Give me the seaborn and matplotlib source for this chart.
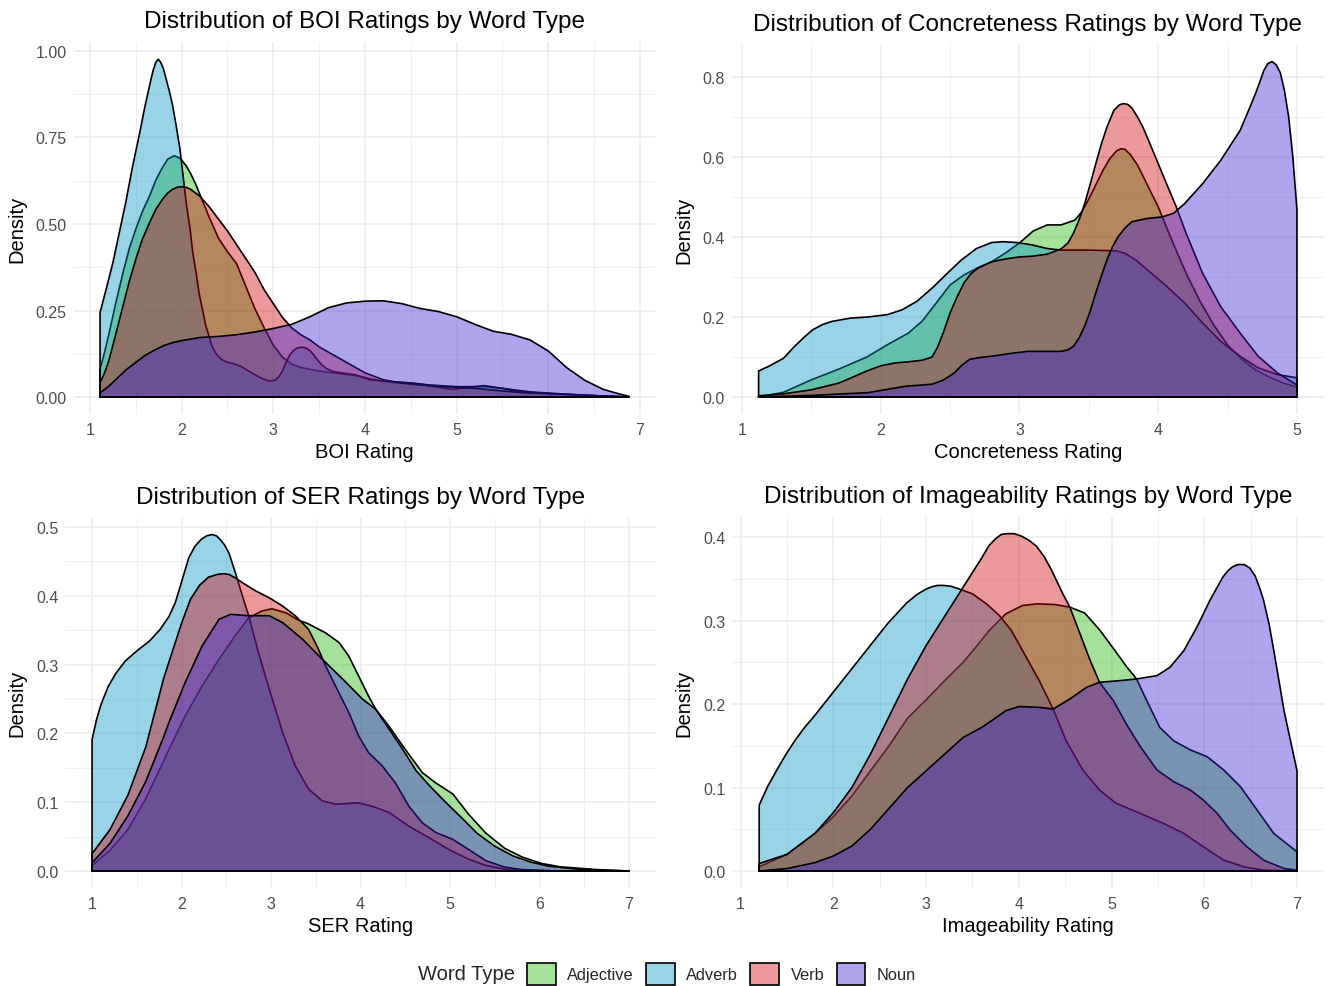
import matplotlib
matplotlib.use("Agg")
import matplotlib.pyplot as plt
import seaborn as sns
import numpy as np
from matplotlib.patches import Patch
from matplotlib.colors import to_rgba
from matplotlib.ticker import MultipleLocator, FormatStrFormatter

# ---------------- data (density curves) ----------------
word_types = ["Adjective", "Adverb", "Verb", "Noun"]
fill_colors = ["#20B607", "#0093C5", "#CF0007", "#3920D9"]
fill_alpha = 0.4

# BOI
boi_adj_x = [1.11, 1.16, 1.21, 1.28, 1.36, 1.43, 1.50, 1.57, 1.65, 1.72, 1.79, 1.85, 1.92, 1.97, 2.0, 2.05, 2.1, 2.15, 2.2, 2.3, 2.4, 2.5, 2.6, 2.7, 2.8, 2.9, 3.0, 3.1, 3.2, 3.3, 3.5, 3.7, 3.9, 4.1, 4.3, 4.5, 4.7, 5.0, 5.3, 5.5, 5.8, 6.2, 6.5, 6.88]
boi_adj_y = [0.08, 0.13, 0.186, 0.27, 0.359, 0.43, 0.485, 0.535, 0.581, 0.628, 0.663, 0.688, 0.697, 0.692, 0.685, 0.668, 0.645, 0.617, 0.585, 0.52, 0.46, 0.42, 0.385, 0.32, 0.255, 0.20, 0.15, 0.115, 0.095, 0.085, 0.075, 0.068, 0.062, 0.05, 0.042, 0.04, 0.035, 0.03, 0.03, 0.025, 0.015, 0.008, 0.004, 0.0]
boi_adv_x = [1.11, 1.18, 1.25, 1.32, 1.39, 1.46, 1.54, 1.60, 1.65, 1.69, 1.72, 1.745, 1.77, 1.80, 1.83, 1.87, 1.90, 1.94, 1.98, 2.02, 2.05, 2.09, 2.12, 2.16, 2.19, 2.23, 2.26, 2.30, 2.33, 2.37, 2.40, 2.44, 2.48, 2.56, 2.65, 2.75, 2.85, 2.92, 2.97, 3.02, 3.06, 3.10, 3.14, 3.18, 3.23, 3.28, 3.32, 3.36, 3.40, 3.44, 3.48, 3.53, 3.58, 3.65, 3.76, 3.90, 4.05, 4.2, 4.4, 4.6, 4.8, 4.95, 5.1, 5.3, 5.5, 5.7, 6.0, 6.3, 6.6, 6.88]
boi_adv_y = [0.244, 0.315, 0.388, 0.475, 0.562, 0.66, 0.76, 0.84, 0.90, 0.945, 0.968, 0.976, 0.968, 0.95, 0.92, 0.88, 0.845, 0.785, 0.72, 0.63, 0.56, 0.49, 0.42, 0.355, 0.30, 0.25, 0.21, 0.175, 0.148, 0.128, 0.117, 0.108, 0.102, 0.097, 0.088, 0.072, 0.057, 0.049, 0.046, 0.049, 0.058, 0.075, 0.10, 0.122, 0.137, 0.143, 0.144, 0.141, 0.134, 0.122, 0.108, 0.093, 0.082, 0.074, 0.069, 0.064, 0.05, 0.046, 0.043, 0.038, 0.028, 0.022, 0.027, 0.033, 0.025, 0.014, 0.01, 0.006, 0.003, 0.0]
boi_verb_x = [1.11, 1.16, 1.21, 1.28, 1.36, 1.43, 1.50, 1.57, 1.65, 1.72, 1.79, 1.85, 1.9, 1.95, 2.0, 2.05, 2.1, 2.2, 2.3, 2.4, 2.5, 2.6, 2.7, 2.8, 2.9, 3.0, 3.1, 3.2, 3.3, 3.4, 3.5, 3.6, 3.7, 3.8, 3.9, 4.0, 4.2, 4.4, 4.6, 4.8, 5.0, 5.2, 5.4, 5.6, 5.8, 6.0, 6.2, 6.5, 6.88]
boi_verb_y = [0.041, 0.07, 0.109, 0.18, 0.263, 0.335, 0.398, 0.455, 0.504, 0.543, 0.571, 0.59, 0.60, 0.606, 0.608, 0.606, 0.60, 0.58, 0.55, 0.515, 0.48, 0.44, 0.40, 0.36, 0.31, 0.27, 0.23, 0.20, 0.18, 0.165, 0.145, 0.13, 0.115, 0.10, 0.085, 0.07, 0.05, 0.04, 0.035, 0.03, 0.028, 0.025, 0.02, 0.015, 0.012, 0.01, 0.008, 0.004, 0.0]
boi_noun_x = [1.11, 1.2, 1.3, 1.4, 1.5, 1.6, 1.7, 1.8, 1.9, 2.0, 2.2, 2.4, 2.6, 2.8, 3.0, 3.2, 3.4, 3.6, 3.8, 4.0, 4.2, 4.4, 4.6, 4.8, 5.0, 5.2, 5.4, 5.6, 5.8, 6.0, 6.2, 6.4, 6.6, 6.8, 6.88]
boi_noun_y = [0.012, 0.03, 0.055, 0.08, 0.10, 0.12, 0.135, 0.148, 0.157, 0.163, 0.172, 0.175, 0.18, 0.188, 0.198, 0.21, 0.232, 0.258, 0.272, 0.277, 0.278, 0.27, 0.256, 0.247, 0.232, 0.21, 0.19, 0.181, 0.165, 0.133, 0.085, 0.048, 0.022, 0.007, 0.002]

# Concreteness
con_adj_x = [1.12, 1.3, 1.5, 1.7, 1.9, 2.05, 2.2, 2.3, 2.4, 2.5, 2.6, 2.7, 2.8, 2.9, 3.0, 3.1, 3.2, 3.3, 3.4, 3.45, 3.5, 3.55, 3.6, 3.65, 3.7, 3.73, 3.76, 3.8, 3.85, 3.9, 3.95, 4.0, 4.1, 4.2, 4.3, 4.4, 4.5, 4.6, 4.7, 4.8, 4.9, 5.0]
con_adj_y = [0.0, 0.012, 0.043, 0.07, 0.10, 0.131, 0.16, 0.19, 0.235, 0.28, 0.305, 0.323, 0.338, 0.36, 0.385, 0.415, 0.43, 0.43, 0.442, 0.463, 0.495, 0.53, 0.565, 0.595, 0.615, 0.62, 0.619, 0.605, 0.58, 0.545, 0.51, 0.475, 0.39, 0.31, 0.24, 0.18, 0.13, 0.095, 0.068, 0.05, 0.035, 0.025]
con_adv_x = [1.12, 1.2, 1.3, 1.38, 1.45, 1.51, 1.58, 1.65, 1.78, 1.91, 2.05, 2.155, 2.26, 2.37, 2.48, 2.58, 2.69, 2.80, 2.88, 2.98, 3.09, 3.2, 3.3, 3.5, 3.7, 3.76, 3.84, 3.92, 4.05, 4.19, 4.32, 4.45, 4.59, 4.72, 4.86, 5.0]
con_adv_y = [0.065, 0.078, 0.097, 0.127, 0.15, 0.168, 0.181, 0.189, 0.197, 0.20, 0.206, 0.218, 0.239, 0.272, 0.309, 0.342, 0.371, 0.386, 0.388, 0.386, 0.38, 0.371, 0.367, 0.367, 0.365, 0.359, 0.342, 0.318, 0.28, 0.235, 0.185, 0.139, 0.102, 0.073, 0.056, 0.048]
con_verb_x = [1.12, 1.3, 1.5, 1.7, 1.9, 2.0, 2.1, 2.2, 2.3, 2.37, 2.41, 2.45, 2.5, 2.55, 2.6, 2.65, 2.7, 2.8, 2.9, 3.0, 3.1, 3.2, 3.3, 3.35, 3.39, 3.43, 3.47, 3.51, 3.55, 3.59, 3.63, 3.68, 3.72, 3.75, 3.78, 3.81, 3.85, 3.89, 3.97, 4.05, 4.13, 4.2, 4.32, 4.45, 4.59, 4.72, 4.86, 5.0]
con_verb_y = [0.003, 0.008, 0.018, 0.035, 0.065, 0.078, 0.085, 0.088, 0.092, 0.10, 0.125, 0.16, 0.21, 0.25, 0.285, 0.308, 0.322, 0.338, 0.345, 0.35, 0.352, 0.357, 0.37, 0.385, 0.41, 0.443, 0.483, 0.532, 0.583, 0.632, 0.674, 0.716, 0.730, 0.733, 0.731, 0.722, 0.70, 0.674, 0.608, 0.541, 0.475, 0.41, 0.309, 0.226, 0.16, 0.102, 0.06, 0.03]
con_noun_x = [1.12, 1.5, 1.91, 2.18, 2.37, 2.45, 2.53, 2.58, 2.64, 2.72, 2.80, 2.96, 3.06, 3.20, 3.30, 3.35, 3.39, 3.43, 3.47, 3.51, 3.55, 3.59, 3.63, 3.67, 3.71, 3.76, 3.81, 3.92, 4.03, 4.11, 4.19, 4.32, 4.45, 4.59, 4.65, 4.70, 4.73, 4.76, 4.79, 4.82, 4.85, 4.88, 4.91, 4.94, 4.97, 5.0]
con_noun_y = [0.0, 0.004, 0.011, 0.027, 0.032, 0.042, 0.06, 0.078, 0.094, 0.099, 0.102, 0.11, 0.114, 0.114, 0.114, 0.118, 0.127, 0.148, 0.177, 0.215, 0.26, 0.302, 0.342, 0.375, 0.40, 0.422, 0.438, 0.446, 0.45, 0.459, 0.483, 0.533, 0.591, 0.666, 0.715, 0.757, 0.785, 0.815, 0.833, 0.838, 0.83, 0.81, 0.765, 0.70, 0.60, 0.467]

# SER
ser_adj_x = [1.0, 1.2, 1.4, 1.6, 1.8, 1.86, 2.04, 2.23, 2.42, 2.6, 2.75, 2.9, 3.01, 3.17, 3.3, 3.42, 3.61, 3.76, 3.87, 3.98, 4.09, 4.17, 4.32, 4.47, 4.69, 4.84, 5.03, 5.21, 5.4, 5.61, 5.81, 6.02, 6.23, 6.64, 7.0]
ser_adj_y = [0.008, 0.03, 0.06, 0.105, 0.16, 0.177, 0.225, 0.269, 0.308, 0.342, 0.368, 0.378, 0.381, 0.375, 0.365, 0.359, 0.346, 0.332, 0.312, 0.283, 0.254, 0.235, 0.21, 0.182, 0.143, 0.128, 0.112, 0.082, 0.055, 0.033, 0.02, 0.011, 0.006, 0.002, 0.0]
ser_adv_x = [1.0, 1.05, 1.1, 1.18, 1.27, 1.37, 1.475, 1.56, 1.64, 1.76, 1.86, 1.93, 2.0, 2.08, 2.15, 2.22, 2.28, 2.34, 2.39, 2.43, 2.48, 2.53, 2.60, 2.68, 2.75, 2.86, 2.98, 3.13, 3.27, 3.42, 3.57, 3.72, 3.85, 3.98, 4.13, 4.32, 4.54, 4.77, 4.99, 5.21, 5.4, 5.6, 5.8, 6.2, 7.0]
ser_adv_y = [0.191, 0.22, 0.242, 0.268, 0.288, 0.305, 0.317, 0.326, 0.334, 0.351, 0.37, 0.39, 0.42, 0.455, 0.472, 0.482, 0.487, 0.489, 0.487, 0.482, 0.474, 0.462, 0.434, 0.40, 0.371, 0.317, 0.264, 0.201, 0.153, 0.119, 0.102, 0.097, 0.098, 0.099, 0.094, 0.085, 0.065, 0.048, 0.031, 0.017, 0.008, 0.003, 0.001, 0.0, 0.0]
ser_verb_x = [1.0, 1.2, 1.4, 1.6, 1.7, 1.8, 1.9, 2.0, 2.1, 2.2, 2.3, 2.4, 2.47, 2.53, 2.6, 2.68, 2.83, 2.98, 3.13, 3.27, 3.42, 3.52, 3.61, 3.72, 3.87, 3.98, 4.09, 4.24, 4.39, 4.54, 4.69, 4.84, 5.03, 5.21, 5.4, 5.6, 5.8, 6.2, 7.0]
ser_verb_y = [0.025, 0.06, 0.11, 0.18, 0.23, 0.28, 0.32, 0.36, 0.395, 0.415, 0.427, 0.431, 0.432, 0.431, 0.426, 0.419, 0.407, 0.397, 0.385, 0.371, 0.351, 0.325, 0.298, 0.269, 0.23, 0.196, 0.172, 0.153, 0.128, 0.094, 0.07, 0.056, 0.046, 0.031, 0.015, 0.006, 0.002, 0.0, 0.0]
ser_noun_x = [1.0, 1.2, 1.4, 1.6, 1.8, 1.86, 2.04, 2.23, 2.42, 2.55, 2.75, 2.98, 3.13, 3.35, 3.57, 3.80, 4.02, 4.17, 4.32, 4.47, 4.62, 4.77, 4.95, 5.14, 5.3, 5.5, 5.7, 5.9, 6.1, 6.4, 6.7, 7.0]
ser_noun_y = [0.012, 0.04, 0.08, 0.13, 0.195, 0.216, 0.274, 0.327, 0.366, 0.373, 0.371, 0.371, 0.361, 0.337, 0.308, 0.279, 0.25, 0.235, 0.206, 0.177, 0.146, 0.124, 0.1, 0.076, 0.055, 0.036, 0.022, 0.013, 0.007, 0.003, 0.001, 0.0]

# Imageability
img_adj_x = [1.2, 1.5, 1.8, 2.0, 2.2, 2.4, 2.6, 2.8, 3.0, 3.2, 3.4, 3.55, 3.68, 3.86, 4.04, 4.2, 4.4, 4.55, 4.71, 4.87, 5.03, 5.16, 5.27, 5.38, 5.52, 5.67, 5.85, 6.03, 6.21, 6.39, 6.57, 6.75, 7.0]
img_adj_y = [0.005, 0.02, 0.045, 0.065, 0.09, 0.12, 0.15, 0.183, 0.205, 0.228, 0.25, 0.27, 0.288, 0.308, 0.318, 0.32, 0.319, 0.316, 0.309, 0.289, 0.265, 0.245, 0.23, 0.204, 0.172, 0.156, 0.145, 0.137, 0.121, 0.101, 0.073, 0.045, 0.023]
img_adv_x = [1.2, 1.29, 1.39, 1.49, 1.59, 1.69, 1.79, 1.99, 2.19, 2.39, 2.59, 2.79, 2.9, 2.99, 3.05, 3.12, 3.19, 3.27, 3.35, 3.5, 3.65, 3.79, 3.92, 4.04, 4.22, 4.37, 4.51, 4.69, 4.87, 5.05, 5.31, 5.56, 5.78, 5.99, 6.21, 6.43, 6.64, 7.0]
img_adv_y = [0.079, 0.101, 0.121, 0.14, 0.157, 0.172, 0.185, 0.213, 0.241, 0.269, 0.297, 0.321, 0.331, 0.337, 0.34, 0.342, 0.342, 0.341, 0.338, 0.332, 0.32, 0.306, 0.288, 0.264, 0.228, 0.194, 0.156, 0.121, 0.097, 0.081, 0.069, 0.057, 0.045, 0.029, 0.013, 0.005, 0.001, 0.0]
img_verb_x = [1.2, 1.5, 1.8, 2.0, 2.2, 2.4, 2.6, 2.8, 3.0, 3.2, 3.4, 3.6, 3.68, 3.75, 3.81, 3.87, 3.95, 4.03, 4.11, 4.19, 4.27, 4.35, 4.47, 4.55, 4.66, 4.77, 4.87, 5.02, 5.16, 5.31, 5.49, 5.67, 5.85, 5.99, 6.14, 6.28, 6.46, 6.64, 6.86, 7.0]
img_verb_y = [0.009, 0.02, 0.045, 0.07, 0.1, 0.14, 0.185, 0.23, 0.27, 0.305, 0.34, 0.375, 0.39, 0.398, 0.403, 0.404, 0.404, 0.401, 0.396, 0.389, 0.377, 0.361, 0.333, 0.316, 0.284, 0.252, 0.226, 0.204, 0.176, 0.149, 0.121, 0.107, 0.097, 0.085, 0.069, 0.049, 0.029, 0.013, 0.003, 0.001]
img_noun_x = [1.2, 1.5, 1.8, 2.0, 2.2, 2.4, 2.6, 2.8, 3.0, 3.2, 3.4, 3.6, 3.68, 3.86, 4.0, 4.22, 4.37, 4.55, 4.73, 4.87, 5.09, 5.27, 5.49, 5.63, 5.78, 5.92, 6.06, 6.2, 6.25, 6.3, 6.36, 6.43, 6.49, 6.55, 6.6, 6.64, 6.7, 6.75, 6.86, 7.0]
img_noun_y = [0.0, 0.003, 0.01, 0.018, 0.03, 0.05, 0.075, 0.1, 0.12, 0.14, 0.16, 0.172, 0.178, 0.192, 0.197, 0.196, 0.194, 0.206, 0.22, 0.226, 0.228, 0.23, 0.234, 0.244, 0.264, 0.292, 0.324, 0.352, 0.359, 0.364, 0.367, 0.367, 0.363, 0.353, 0.338, 0.324, 0.295, 0.264, 0.192, 0.12]

panel_titles = ["Distribution of BOI Ratings by Word Type",
                "Distribution of Concreteness Ratings by Word Type",
                "Distribution of SER Ratings by Word Type",
                "Distribution of Imageability Ratings by Word Type"]
x_labels = ["BOI Rating", "Concreteness Rating", "SER Rating", "Imageability Rating"]
y_label = "Density"
legend_title = "Word Type"

# ---------------- style ----------------
sns.set_theme(style="white")
plt.rcParams['font.family'] = ['Liberation Sans', 'DejaVu Sans']

W, H = 1328, 987
fig = plt.figure(figsize=(W / 100, H / 100), dpi=100)
fig.patch.set_facecolor("white")

# panel rectangles in pixels: (left, top, right, bottom)
rects = [(73.6, 43.4, 655.4, 414.9),
         (731.7, 45.8, 1323.9, 414.8),
         (65.2, 518.7, 655.9, 888.8),
         (732.3, 517.8, 1323.9, 888.9)]
y_steps = [0.25, 0.2, 0.1, 0.1]
y_fmts = ['%.2f', '%.1f', '%.1f', '%.1f']
curves_all = [
    [(boi_adj_x, boi_adj_y), (boi_adv_x, boi_adv_y), (boi_verb_x, boi_verb_y), (boi_noun_x, boi_noun_y)],
    [(con_adj_x, con_adj_y), (con_adv_x, con_adv_y), (con_verb_x, con_verb_y), (con_noun_x, con_noun_y)],
    [(ser_adj_x, ser_adj_y), (ser_adv_x, ser_adv_y), (ser_verb_x, ser_verb_y), (ser_noun_x, ser_noun_y)],
    [(img_adj_x, img_adj_y), (img_adv_x, img_adv_y), (img_verb_x, img_verb_y), (img_noun_x, img_noun_y)],
]

grid_col = "#EBEBEB"
tick_col = "#4D4D4D"

for p, (rect, curves) in enumerate(zip(rects, curves_all)):
    l, t, r, b = rect
    ax = fig.add_axes([l / W, 1 - b / H, (r - l) / W, (b - t) / H])
    ax.set_facecolor("white")
    for s in ax.spines.values():
        s.set_visible(False)

    for i, (xs, ys) in enumerate(curves):
        xs = np.asarray(xs, float)
        ys = np.asarray(ys, float)
        ax.fill_between(xs, ys, 0, facecolor=to_rgba(fill_colors[i], fill_alpha),
                        edgecolor='none', linewidth=0, zorder=2 + 2 * i)
        xo = np.concatenate([[xs[0]], xs, [xs[-1], xs[0]]])
        yo = np.concatenate([[0.0], ys, [0.0, 0.0]])
        sns.lineplot(x=xo, y=yo, sort=False, estimator=None, color='black',
                     linewidth=1.2, zorder=3 + 2 * i, ax=ax)

    # ggplot-like 5% expansion of the data range
    allx = np.concatenate([np.asarray(c[0], float) for c in curves])
    ally = np.concatenate([np.asarray(c[1], float) for c in curves])
    xmin, xmax = allx.min(), allx.max()
    ymax = ally.max()
    ax.set_xlim(xmin - 0.05 * (xmax - xmin), xmax + 0.05 * (xmax - xmin))
    ax.set_ylim(-0.05 * ymax, ymax * 1.05)

    ax.xaxis.set_major_locator(MultipleLocator(1))
    ax.xaxis.set_minor_locator(MultipleLocator(0.5))
    ax.yaxis.set_major_locator(MultipleLocator(y_steps[p]))
    ax.yaxis.set_minor_locator(MultipleLocator(y_steps[p] / 2))
    ax.xaxis.set_major_formatter(FormatStrFormatter('%d'))
    ax.yaxis.set_major_formatter(FormatStrFormatter(y_fmts[p]))
    ax.grid(which='major', color=grid_col, linewidth=1.1, zorder=0)
    ax.grid(which='minor', color=grid_col, linewidth=0.55, zorder=0)
    ax.set_axisbelow(True)
    ax.tick_params(which='both', length=0, labelsize=11.5, labelcolor=tick_col)
    ax.tick_params(axis='x', pad=6)
    ax.tick_params(axis='y', pad=5)
    ax.set_xlabel("")
    ax.set_ylabel("")

    cx = (l + r) / 2
    fig.text(cx / W, 1 - (t - 15) / H, panel_titles[p], ha='center', va='baseline',
             fontsize=17.5, color='black')
    fig.text(cx / W, 1 - (b + 43) / H, x_labels[p], ha='center', va='baseline',
             fontsize=14.5, color='black')
    lab_x = 17 if p in (0, 2) else 684
    fig.text(lab_x / W, 1 - ((t + b) / 2) / H, y_label, ha='center', va='center',
             rotation=90, fontsize=14.5, color='black')

# legend
handles = [Patch(facecolor=to_rgba(c, fill_alpha), edgecolor='black', linewidth=1.2)
           for c in fill_colors]
fig.text(515 / W, 1 - 975 / H, legend_title, ha='right', va='center', fontsize=14.5)
fig.legend(handles, word_types, loc='center left', bbox_to_anchor=(527 / W, 1 - 975 / H),
           ncol=4, frameon=False, fontsize=11.8, handlelength=1.75, handleheight=1.75,
           handletextpad=0.7, columnspacing=0.75, borderpad=0, borderaxespad=0)

fig.savefig("out.png", dpi=100, facecolor="white")
